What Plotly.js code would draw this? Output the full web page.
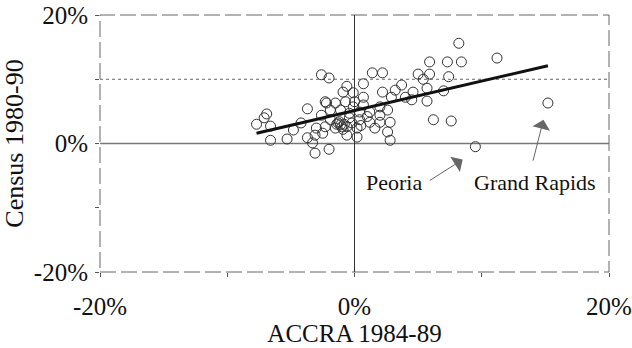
<!DOCTYPE html>
<html>
<head>
<meta charset="utf-8">
<script src="https://cdn.plot.ly/plotly-3.0.1.min.js"></script>
<style>html,body{margin:0;padding:0;background:#fff;}#chart{width:632px;height:348px;}</style>
</head>
<body>
<div id="chart"></div>
<script>
// ACCRA 1984-89 (x, %) vs Census 1980-90 (y, %)
const accra = [
  -2.6, -2.0, -3.7, -6.9, -7.1, -7.7, -6.6, -4.2, -4.8, -5.3, -6.6, -3.0, -3.1, -3.7, -3.3, -3.1, -2.0, -2.6, -2.2,
  1.4, 2.2, 0.7, -0.6, -0.9, 2.2, 3.7, 3.2, -0.1, 0.7, 2.9, 4.0, -2.3, -1.5, -0.7, 0.0, -0.1, 0.7, 2.0,
  -1.9, -1.1, -0.4, 0.4, 1.2, 2.6, 2.0, 2.8, 2.0, 1.2, 0.4, -0.4, -1.9, -1.3, -1.0, -1.5, -2.3, 0.2, -0.6,
  1.6, 2.6, 2.8, 0.2, -0.6, -2.5, -1.1, -0.8, -1.4, -1.2, -0.9, 0.5, 1.0, -0.2,
  8.2, 5.9, 7.3, 8.4, 11.2, 5.0, 5.9, 5.4, 7.4, 5.7, 4.6, 7.0, 4.5, 5.7, 6.2, 7.6,
  9.5, 15.2
];
const census = [
  10.7, 10.2, 5.4, 4.6, 4.0, 3.0, 2.7, 3.2, 2.1, 0.7, 0.5, 2.4, 1.3, 0.9, 0.1, -1.5, -0.9, 4.4, 6.3,
  11.0, 11.0, 9.3, 8.9, 8.0, 8.0, 9.1, 8.3, 7.9, 7.2, 7.2, 7.2, 6.5, 6.3, 6.5, 6.5, 5.7, 6.0, 5.7,
  5.2, 5.2, 4.7, 4.9, 4.9, 5.2, 4.4, 3.3, 3.3, 3.3, 3.7, 4.0, 3.7, 3.2, 2.6, 2.4, 2.6, 2.4, 2.6,
  2.4, 1.8, 0.5, 1.0, 1.3, 1.6, 2.9, 3.0, 3.0, 3.4, 2.2, 2.8, 4.2, 3.2,
  15.6, 12.7, 12.7, 12.7, 13.3, 10.8, 10.8, 10.0, 10.4, 8.6, 8.0, 8.2, 6.8, 6.6, 3.7, 3.5,
  -0.5, 6.3
];
// fitted line endpoints
const fitX = [-7.7, 15.2];
const fitY = [1.6, 12.1];
// labelled cities: text position and arrow (tail -> tip)
const labelNames = ["Peoria", "Grand Rapids"];
const labelX = [3.1, 14.2];
const labelY = [-6.0, -6.0];
const arrowTailX = [5.8, 14.0];
const arrowTailY = [-5.9, -2.9];
const arrowTipX = [8.5, 14.85];
const arrowTipY = [-2.5, 3.7];
const tickVals = [-20, -10, 0, 10, 20];
const tickText = ["-20%", "", "0%", "", "20%"];

const FONT = "Liberation Serif, Times New Roman, serif";

const traces = [
  {
    x: accra, y: census, type: "scatter", mode: "markers",
    marker: {symbol: "circle-open", size: 10, color: "#333", line: {width: 1, color: "#333"}},
    hoverinfo: "skip", showlegend: false
  },
  {
    x: fitX, y: fitY, type: "scatter", mode: "lines",
    line: {color: "#111", width: 3}, hoverinfo: "skip", showlegend: false
  }
];

const annotations = [];
for (let i = 0; i < labelNames.length; i++) {
  annotations.push({
    x: labelX[i], y: labelY[i], xref: "x", yref: "y", text: labelNames[i], showarrow: false,
    font: {family: FONT, size: 22, color: "#111"}, xanchor: "center", yanchor: "middle"
  });
  annotations.push({
    x: arrowTipX[i], y: arrowTipY[i], xref: "x", yref: "y",
    ax: arrowTailX[i], ay: arrowTailY[i], axref: "x", ayref: "y",
    text: "", showarrow: true, arrowhead: 1, arrowsize: 3, arrowwidth: 1, arrowcolor: "#666"
  });
}

const layout = {
  width: 632, height: 348,
  margin: {l: 100, r: 23, t: 15, b: 76},
  paper_bgcolor: "#fff", plot_bgcolor: "#fff",
  font: {family: FONT, size: 25, color: "#111"},
  xaxis: {
    range: [-20, 20], tickvals: tickVals, ticktext: tickText,
    ticks: "outside", ticklen: 4, tickcolor: "#555", tickwidth: 1,
    showgrid: false, zeroline: false, showline: false,
    tickfont: {family: FONT, size: 25, color: "#111"}, ticklabelstandoff: 8,
    title: {text: "ACCRA 1984-89", font: {family: FONT, size: 25, color: "#111"}, standoff: 4}
  },
  yaxis: {
    range: [-20, 20], tickvals: tickVals, ticktext: tickText,
    ticks: "outside", ticklen: 4, tickcolor: "#555", tickwidth: 1,
    showgrid: false, zeroline: false, showline: false,
    tickfont: {family: FONT, size: 25, color: "#111"}, ticklabelstandoff: 2,
    title: {text: "Census 1980-90", font: {family: FONT, size: 26, color: "#111"}, standoff: 8}
  },
  shapes: [
    {type: "rect", xref: "paper", yref: "paper", x0: 0, x1: 1, y0: 0, y1: 1,
     line: {color: "#666", width: 1, dash: "16px,5px"}, layer: "below"},
    {type: "line", xref: "paper", yref: "y", x0: 0, x1: 1, y0: 10, y1: 10,
     line: {color: "#666", width: 1, dash: "dot"}, layer: "below"},
    {type: "line", xref: "paper", yref: "y", x0: 0, x1: 1, y0: 0, y1: 0,
     line: {color: "#777", width: 1.5}, layer: "below"},
    {type: "line", xref: "x", yref: "paper", x0: 0, x1: 0, y0: 0, y1: 1,
     line: {color: "#333", width: 1}, layer: "below"}
  ],
  annotations: annotations
};

Plotly.newPlot("chart", traces, layout, {staticPlot: true, displayModeBar: false});
</script>
</body>
</html>
